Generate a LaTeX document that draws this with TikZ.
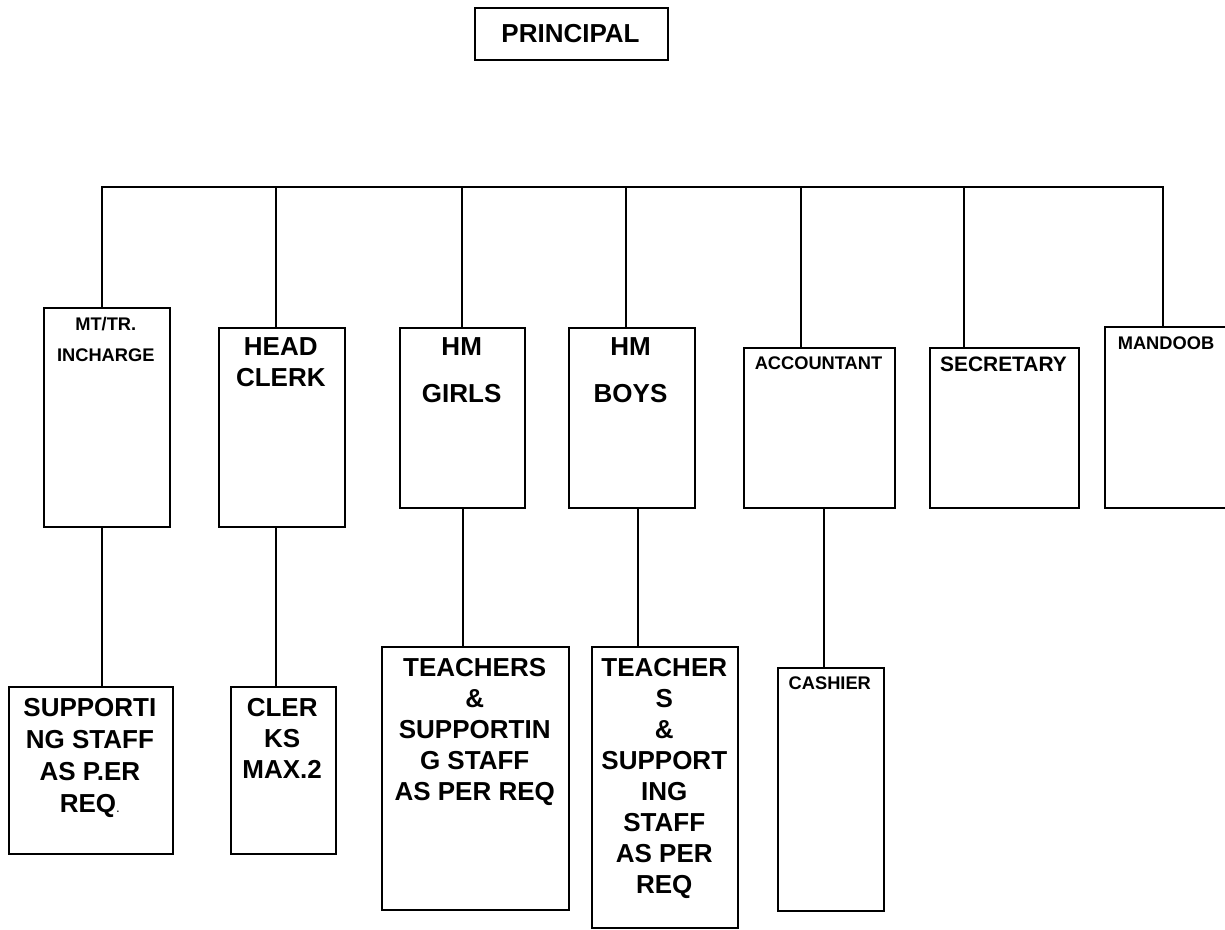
\documentclass[tikz,border=0pt]{standalone}
\usepackage{fontspec}
\setmainfont{Liberation Sans}
\begin{document}
\begin{tikzpicture}[x=0.75pt,y=-0.75pt,
  box/.style={draw, line width=1.5pt, inner sep=0pt, anchor=north west},
  big/.style={font=\bfseries\fontsize{19.5pt}{23.25pt}\selectfont, align=center, inner sep=0pt, anchor=north},
  bigwide/.style={font=\bfseries\fontsize{19.5pt}{35.25pt}\selectfont, align=center, inner sep=0pt, anchor=north},
  small/.style={font=\bfseries\fontsize{13.7pt}{23.25pt}\selectfont, align=center, inner sep=0pt, anchor=north},
  mid/.style={font=\bfseries\fontsize{15.7pt}{19pt}\selectfont, align=center, inner sep=0pt, anchor=north},
  link/.style={line width=1.5pt}]
\clip (0,0) rectangle (1225,929);

% top of the chart
\node[box, minimum width=193*0.75pt, minimum height=51.7*0.75pt] (principal) at (474,7.3) {};
\node[big] at (570.5,23.7) {PRINCIPAL};

% first level
\node[box, minimum width=125.7*0.75pt, minimum height=219.3*0.75pt] (mt) at (43,306.7) {};
\node[small] at (105.8,316.5) {MT/TR.\\INCHARGE};

\node[box, minimum width=125.7*0.75pt, minimum height=199.3*0.75pt] (hc) at (218,326.7) {};
\node[big] at (280.8,337.7) {HEAD\\CLERK};

\node[box, minimum width=125.3*0.75pt, minimum height=180*0.75pt] (hmg) at (399,326.7) {};
\node[bigwide] at (461.7,337.4) {HM\\GIRLS};

\node[box, minimum width=126*0.75pt, minimum height=180*0.75pt] (hmb) at (567.5,326.7) {};
\node[bigwide] at (630.5,337.4) {HM\\BOYS};

\node[box, minimum width=151.5*0.75pt, minimum height=160*0.75pt] (acc) at (742.7,346.7) {};
\node[small] at (818.5,356.1) {ACCOUNTANT};

\node[box, minimum width=149*0.75pt, minimum height=160*0.75pt] (sec) at (929,346.7) {};
\node[mid] at (1003.5,356.5) {SECRETARY};

\node[box, minimum width=124*0.75pt, minimum height=180.7*0.75pt] (man) at (1104,326) {};
\node[small] at (1166,336.5) {MANDOOB};

% second level
\node[box, minimum width=163.7*0.75pt, minimum height=167.5*0.75pt] (sup) at (8,685.7) {};
\node[big, font=\bfseries\fontsize{19.5pt}{24pt}\selectfont] at (89.9,697.7)
  {SUPPORTI\\NG STAFF\\AS P.ER\\REQ{\mdseries\fontsize{10pt}{12pt}\selectfont .}};

\node[box, minimum width=105*0.75pt, minimum height=167.5*0.75pt] (clk) at (229.7,685.7) {};
\node[big] at (282.2,697.7) {CLER\\KS\\MAX.2};

\node[box, minimum width=187.3*0.75pt, minimum height=263*0.75pt] (tg) at (381,646.4) {};
\node[big] at (474.7,658) {TEACHERS\\\&\\SUPPORTIN\\G STAFF\\AS PER REQ};

\node[box, minimum width=145.9*0.75pt, minimum height=280.6*0.75pt] (tb) at (591.3,646.4) {};
\node[big] at (664.3,657.7) {TEACHER\\S\\\&\\SUPPORT\\ING\\STAFF\\AS PER\\REQ};

\node[box, minimum width=105.5*0.75pt, minimum height=243*0.75pt] (cas) at (777,666.5) {};
\node[small] at (829.8,676) {CASHIER};

% branch bar and drops
\coordinate (c1) at (101.7,186.7);
\coordinate (c2) at (276.3,186.7);
\coordinate (c3) at (462,186.7);
\coordinate (c4) at (626.3,186.7);
\coordinate (c5) at (801,186.7);
\coordinate (c6) at (964.3,186.7);
\coordinate (c7) at (1162.5,186.7);

\draw[link] (c1 |- mt.north) -- (c1) -- (c7) -- (c7 |- man.north);
\draw[link] (c2) -- (c2 |- hc.north);
\draw[link] (c3) -- (c3 |- hmg.north);
\draw[link] (c4) -- (c4 |- hmb.north);
\draw[link] (c5) -- (c5 |- acc.north);
\draw[link] (c6) -- (c6 |- sec.north);

% lower drops
\coordinate (d1) at (101.7,0);
\coordinate (d2) at (276.3,0);
\coordinate (d3) at (462.5,0);
\coordinate (d4) at (638,0);
\coordinate (d5) at (824,0);

\draw[link] (d1 |- mt.south) -- (d1 |- sup.north);
\draw[link] (d2 |- hc.south) -- (d2 |- clk.north);
\draw[link] (d3 |- hmg.south) -- (d3 |- tg.north);
\draw[link] (d4 |- hmb.south) -- (d4 |- tb.north);
\draw[link] (d5 |- acc.south) -- (d5 |- cas.north);
\end{tikzpicture}
\end{document}
